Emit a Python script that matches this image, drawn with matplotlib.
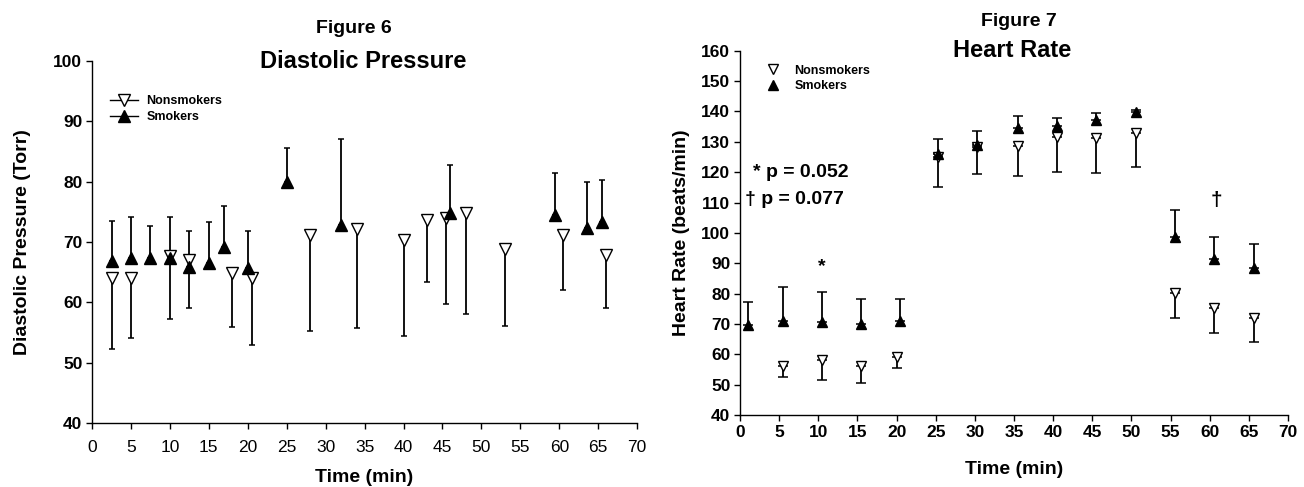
import numpy as np
import matplotlib.pyplot as plt

plt.rcParams['font.family'] = ['Liberation Sans', 'DejaVu Sans']

# Figure 6 - diastolic pressure (Torr)
dp_ns_t = [2.5, 5, 10, 12.5, 18, 20.5, 28, 34, 40, 43, 45.5, 48, 53, 60.5, 66]
dp_ns_mean = [64.1, 64.1, 67.6, 67.0, 64.8, 64.0, 71.2, 72.2, 70.3, 73.7, 74.0, 74.8, 68.8, 71.2, 67.9]
dp_ns_low = [52.3, 54.1, 57.2, 59.0, 55.9, 52.9, 55.2, 55.7, 54.4, 63.3, 59.8, 58.1, 56.0, 62.0, 59.1]

dp_s_t = [2.5, 5, 7.5, 10, 12.5, 15, 17, 20, 25, 32, 46, 59.5, 63.5, 65.5]
dp_s_mean = [66.8, 67.3, 67.3, 67.3, 65.9, 66.5, 69.1, 65.7, 79.9, 72.9, 74.8, 74.5, 72.3, 73.3]
dp_s_high = [73.5, 74.1, 72.6, 74.1, 71.9, 73.3, 76.0, 71.8, 85.6, 87.1, 82.7, 81.4, 79.9, 80.3]

# Figure 7 - heart rate (beats/min)
hr_ns_t = [5.5, 10.5, 15.5, 20.1, 25.3, 30.3, 35.5, 40.5, 45.5, 50.6, 55.6, 60.6, 65.7]
hr_ns_mean = [56.0, 58.1, 56.1, 59.2, 125.0, 128.4, 128.7, 131.7, 131.3, 133.0, 80.1, 75.1, 71.8]
hr_ns_low = [52.4, 51.7, 50.6, 55.4, 115.0, 119.4, 118.8, 119.9, 119.8, 121.6, 72.1, 67.1, 64.1]

hr_s_t = [1, 5.5, 10.5, 15.5, 20.5, 25.3, 30.3, 35.5, 40.5, 45.5, 50.6, 55.6, 60.6, 65.7]
hr_s_mean = [69.5, 71.1, 70.7, 70.0, 71.1, 126.0, 128.9, 134.6, 135.2, 137.2, 139.9, 98.7, 91.3, 88.3]
hr_s_high = [77.3, 82.3, 80.6, 78.2, 78.2, 130.8, 133.6, 138.6, 137.9, 139.4, 140.5, 107.5, 98.7, 96.3]

x_ticks = np.arange(0, 71, 5)
dp_ticks = np.arange(40, 101, 10)
hr_ticks = np.arange(40, 161, 10)

fig = plt.figure(figsize=(13.04, 4.87), dpi=100)
ax1 = fig.add_axes([0.0706, 0.1314, 0.418, 0.7433])
ax2 = fig.add_axes([0.5675, 0.1478, 0.4202, 0.748])


def style_axes(ax, yticks, xbold, xpad):
    for s in ['top', 'right']:
        ax.spines[s].set_visible(False)
    for s in ['left', 'bottom']:
        ax.spines[s].set_linewidth(1.0)
    ax.set_xlim(0, 70)
    ax.set_ylim(yticks[0], yticks[-1])
    ax.set_xticks(x_ticks)
    ax.set_yticks(yticks)
    ax.tick_params(direction='out', length=4, width=1, labelsize=12.5, pad=3)
    ax.tick_params(axis='x', pad=xpad)
    for lab in ax.get_yticklabels():
        lab.set_fontweight('bold')
    for lab in ax.get_xticklabels():
        lab.set_fontweight('bold' if xbold else 'normal')


def draw(ax, ns_t, ns_mean, ns_low, s_t, s_mean, s_high, ms, cap):
    ns_mean = np.array(ns_mean)
    s_mean = np.array(s_mean)
    ax.errorbar(ns_t, ns_mean, yerr=[ns_mean - np.array(ns_low), np.zeros(len(ns_t))],
                fmt='none', ecolor='black', elinewidth=1.3, capsize=cap, capthick=1.1, zorder=2)
    ax.errorbar(s_t, s_mean, yerr=[np.zeros(len(s_t)), np.array(s_high) - s_mean],
                fmt='none', ecolor='black', elinewidth=1.3, capsize=cap, capthick=1.1, zorder=2)
    ax.plot(ns_t, ns_mean, linestyle='none', marker='v', ms=ms, mfc='white',
            mec='black', mew=1.0, zorder=3)
    ax.plot(s_t, s_mean, linestyle='none', marker='^', ms=ms, mfc='black',
            mec='black', mew=1.0, zorder=4)


draw(ax1, dp_ns_t, dp_ns_mean, dp_ns_low, dp_s_t, dp_s_mean, dp_s_high, 8, 2.5)
draw(ax2, hr_ns_t, hr_ns_mean, hr_ns_low, hr_s_t, hr_s_mean, hr_s_high, 6.5, 3.5)

style_axes(ax1, dp_ticks, False, 8)
style_axes(ax2, hr_ticks, True, 3)

lab_font = dict(fontsize=14, fontweight='bold')
ax1.set_ylabel('Diastolic Pressure (Torr)', labelpad=16, **lab_font)
ax1.set_xlabel('Time (min)', labelpad=10, **lab_font)
ax2.set_ylabel('Heart Rate (beats/min)', labelpad=8, **lab_font)
ax2.set_xlabel('Time (min)', labelpad=15, **lab_font)

# legends
leg_prop = dict(size=9, weight='bold')
h1 = ax1.plot([], [], color='black', lw=1, marker='v', ms=8, mfc='white', mec='black')[0]
h2 = ax1.plot([], [], color='black', lw=1, marker='^', ms=8, mfc='black', mec='black')[0]
ax1.legend([h1, h2], ['Nonsmokers', 'Smokers'], loc='upper left',
           bbox_to_anchor=(0.033, 0.905), frameon=False, prop=leg_prop,
           handlelength=2.2, handletextpad=0.7, labelspacing=0.3, borderpad=0,
           borderaxespad=0)

h3 = ax2.plot([], [], linestyle='none', marker='v', ms=6.5, mfc='white', mec='black')[0]
h4 = ax2.plot([], [], linestyle='none', marker='^', ms=6.5, mfc='black', mec='black')[0]
ax2.legend([h3, h4], ['Nonsmokers', 'Smokers'], loc='upper left',
           bbox_to_anchor=(0.049, 0.962), frameon=False, prop=leg_prop,
           handlelength=1.0, handletextpad=1.2, labelspacing=0.3, borderpad=0,
           borderaxespad=0)

# significance notes
ax2.text(1.7, 120.0, '* p = 0.052', fontsize=14, fontweight='bold', va='center', ha='left')
ax2.text(0.6, 111.1, '\u2020 p = 0.077', fontsize=14, fontweight='bold', va='center', ha='left')
ax2.text(10.5, 88.8, '*', fontsize=14, fontweight='bold', va='center', ha='center')
ax2.text(60.8, 110.8, '\u2020', fontsize=15, fontweight='bold', va='center', ha='center')

# titles
W, H = 1304, 487
fig.text(354 / W, 1 - 33 / H, 'Figure 6', fontsize=14, fontweight='bold', ha='center', va='baseline')
fig.text(363 / W, 1 - 68 / H, 'Diastolic Pressure', fontsize=17, fontweight='bold', ha='center', va='baseline')
fig.text(1019 / W, 1 - 26 / H, 'Figure 7', fontsize=14, fontweight='bold', ha='center', va='baseline')
fig.text(1012 / W, 1 - 57 / H, 'Heart Rate', fontsize=17, fontweight='bold', ha='center', va='baseline')

fig.savefig('out.png', dpi=100)
